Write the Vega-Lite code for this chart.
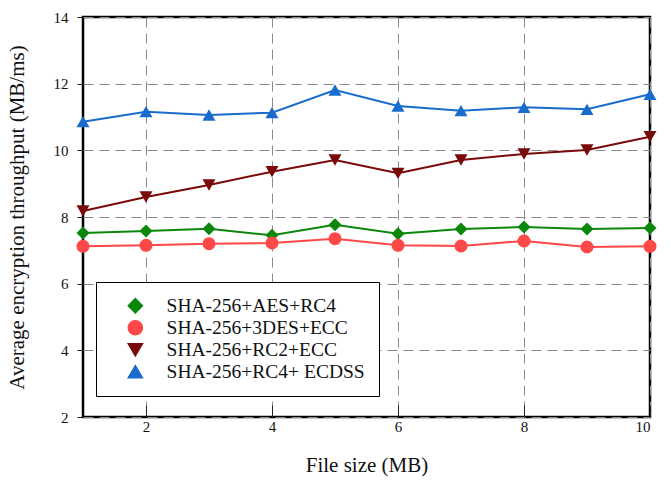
{
  "$schema": "https://vega.github.io/schema/vega-lite/v6.json",
  "width": 567,
  "height": 400,
  "autosize": "none",
  "padding": {"left": 83, "top": 17, "right": 20, "bottom": 76},
  "background": "white",
  "config": {
    "view": {"stroke": "black", "strokeWidth": 2.5},
    "axis": {
      "labelFont": "Liberation Serif",
      "labelFontSize": 15,
      "labelColor": "#111",
      "titleFont": "Liberation Serif",
      "titleFontSize": 21,
      "titleFontWeight": "normal",
      "titleColor": "#111",
      "domain": false,
      "grid": true,
      "gridColor": "#8a8a8a",
      "gridDash": [10, 6],
      "gridWidth": 1,
      "tickColor": "#222"
    },
    "legend": {
      "labelFont": "Liberation Serif",
      "labelFontSize": 19.5,
      "labelColor": "#111",
      "labelLimit": 0
    }
  },
  "data": {
    "values": [
      {"x": 1, "y": 7.52, "series": "SHA-256+AES+RC4"},
      {"x": 2, "y": 7.58, "series": "SHA-256+AES+RC4"},
      {"x": 3, "y": 7.65, "series": "SHA-256+AES+RC4"},
      {"x": 4, "y": 7.45, "series": "SHA-256+AES+RC4"},
      {"x": 5, "y": 7.77, "series": "SHA-256+AES+RC4"},
      {"x": 6, "y": 7.5, "series": "SHA-256+AES+RC4"},
      {"x": 7, "y": 7.64, "series": "SHA-256+AES+RC4"},
      {"x": 8, "y": 7.7, "series": "SHA-256+AES+RC4"},
      {"x": 9, "y": 7.64, "series": "SHA-256+AES+RC4"},
      {"x": 10, "y": 7.67, "series": "SHA-256+AES+RC4"},
      {"x": 1, "y": 7.12, "series": "SHA-256+3DES+ECC"},
      {"x": 2, "y": 7.15, "series": "SHA-256+3DES+ECC"},
      {"x": 3, "y": 7.2, "series": "SHA-256+3DES+ECC"},
      {"x": 4, "y": 7.22, "series": "SHA-256+3DES+ECC"},
      {"x": 5, "y": 7.35, "series": "SHA-256+3DES+ECC"},
      {"x": 6, "y": 7.15, "series": "SHA-256+3DES+ECC"},
      {"x": 7, "y": 7.13, "series": "SHA-256+3DES+ECC"},
      {"x": 8, "y": 7.28, "series": "SHA-256+3DES+ECC"},
      {"x": 9, "y": 7.1, "series": "SHA-256+3DES+ECC"},
      {"x": 10, "y": 7.12, "series": "SHA-256+3DES+ECC"},
      {"x": 1, "y": 8.18, "series": "SHA-256+RC2+ECC"},
      {"x": 2, "y": 8.6, "series": "SHA-256+RC2+ECC"},
      {"x": 3, "y": 8.96, "series": "SHA-256+RC2+ECC"},
      {"x": 4, "y": 9.36, "series": "SHA-256+RC2+ECC"},
      {"x": 5, "y": 9.71, "series": "SHA-256+RC2+ECC"},
      {"x": 6, "y": 9.31, "series": "SHA-256+RC2+ECC"},
      {"x": 7, "y": 9.71, "series": "SHA-256+RC2+ECC"},
      {"x": 8, "y": 9.89, "series": "SHA-256+RC2+ECC"},
      {"x": 9, "y": 10.01, "series": "SHA-256+RC2+ECC"},
      {"x": 10, "y": 10.41, "series": "SHA-256+RC2+ECC"},
      {"x": 1, "y": 10.86, "series": "SHA-256+RC4+ ECDSS"},
      {"x": 2, "y": 11.16, "series": "SHA-256+RC4+ ECDSS"},
      {"x": 3, "y": 11.06, "series": "SHA-256+RC4+ ECDSS"},
      {"x": 4, "y": 11.13, "series": "SHA-256+RC4+ ECDSS"},
      {"x": 5, "y": 11.81, "series": "SHA-256+RC4+ ECDSS"},
      {"x": 6, "y": 11.33, "series": "SHA-256+RC4+ ECDSS"},
      {"x": 7, "y": 11.19, "series": "SHA-256+RC4+ ECDSS"},
      {"x": 8, "y": 11.29, "series": "SHA-256+RC4+ ECDSS"},
      {"x": 9, "y": 11.23, "series": "SHA-256+RC4+ ECDSS"},
      {"x": 10, "y": 11.68, "series": "SHA-256+RC4+ ECDSS"}
    ]
  },
  "encoding": {
    "x": {
      "field": "x",
      "type": "quantitative",
      "scale": {"domain": [1, 10], "nice": false, "zero": false},
      "axis": {
        "title": "File size (MB)",
        "values": [2, 4, 6, 8, 10],
        "tickSize": -12,
        "labelPadding": 14,
        "titlePadding": 20
      }
    },
    "y": {
      "field": "y",
      "type": "quantitative",
      "scale": {"domain": [2, 14], "nice": false, "zero": false},
      "axis": {
        "title": "Average encryption throughput (MB/ms)",
        "values": [2, 4, 6, 8, 10, 12, 14],
        "tickSize": 6,
        "labelPadding": 9,
        "titlePadding": 26
      }
    },
    "color": {
      "field": "series",
      "type": "nominal",
      "scale": {
        "domain": ["SHA-256+AES+RC4", "SHA-256+3DES+ECC", "SHA-256+RC2+ECC", "SHA-256+RC4+ ECDSS"],
        "range": ["#0b870b", "#ff4848", "#7a0a0a", "#1a6ccc"]
      },
      "legend": {
        "orient": "none",
        "legendX": 13,
        "legendY": 265,
        "title": null,
        "strokeColor": "black",
        "fillColor": "white",
        "padding": 14,
        "labelFont": "Liberation Serif",
        "labelFontSize": 19.5,
        "labelColor": "#111",
        "labelLimit": 0,
        "symbolSize": 200,
        "symbolOffset": 15.6,
        "labelOffset": 21.5,
        "rowPadding": 1
      }
    }
  },
  "layer": [
    {
      "mark": {"type": "line", "strokeWidth": 2}
    },
    {
      "mark": {"type": "point", "filled": true, "size": 170, "opacity": 1},
      "encoding": {
        "shape": {
          "field": "series",
          "type": "nominal",
          "scale": {
            "domain": ["SHA-256+AES+RC4", "SHA-256+3DES+ECC", "SHA-256+RC2+ECC", "SHA-256+RC4+ ECDSS"],
            "range": ["diamond", "circle", "triangle-down", "triangle-up"]
          },
          "legend": {
            "orient": "none",
            "legendX": 13,
            "legendY": 265,
            "title": null,
            "strokeColor": "black",
            "fillColor": "white",
            "padding": 14,
            "labelFont": "Liberation Serif",
            "labelFontSize": 19.5,
            "labelColor": "#111",
            "labelLimit": 0,
            "symbolSize": 200,
            "symbolOffset": 15.6,
            "labelOffset": 21.5,
            "rowPadding": 1
          }
        }
      }
    }
  ]
}
